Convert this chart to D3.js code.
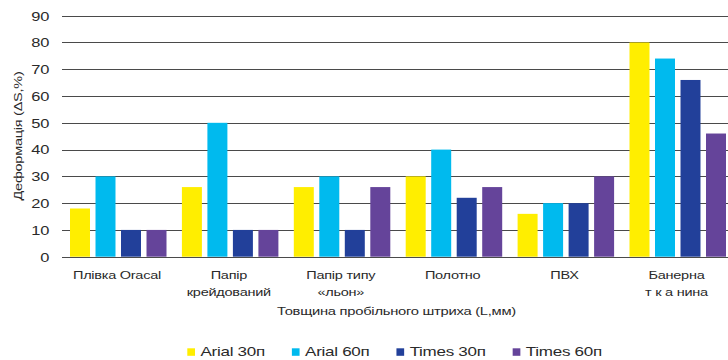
<!DOCTYPE html>
<html>
<head>
<meta charset="utf-8">
<script src="https://cdn.jsdelivr.net/npm/d3@7"></script>
<style>
  html, body { margin: 0; padding: 0; background: #fff; }
  svg { display: block; }
  text { font-family: "Liberation Sans", Arial, sans-serif; fill: #2a2a2a; }
</style>
</head>
<body>
<svg id="chart" width="728" height="360"></svg>
<script>
// Materials tested (two-line labels split with "\n")
const categories = ["Плівка Oracal", "Папір\nкрейдований", "Папір типу\n«льон»", "Полотно", "ПВХ", "Банерна\nт к а нина"];
const seriesNames = ["Arial 30п", "Arial 60п", "Times 30п", "Times 60п"];
const arial30 = [18, 26, 26, 30, 16, 80];
const arial60 = [30, 50, 30, 40, 20, 74];
const times30 = [10, 10, 10, 22, 20, 66];
const times60 = [10, 10, 26, 26, 30, 46];
const yTicks = [0, 10, 20, 30, 40, 50, 60, 70, 80, 90];
const colors = ["#FFEE00", "#00BAEE", "#22409A", "#65449A"];

const seriesValues = [arial30, arial60, times30, times60];
const svg = d3.select("#chart");

const y = d3.scaleLinear().domain([0, 90]).range([256.7, 15.7]);
const x0 = d3.scaleBand().domain(categories).range([62, 733.4]);
const x1 = d3.scaleBand().domain(seriesNames).range([8, 104.5]).paddingInner(0.216).paddingOuter(0);

// wide-set lettering: place a text node inside a positioned group and stretch it horizontally
function wideText(parent, x, y, str, size, sx, anchor, rotate) {
  const g = parent.append("g")
    .attr("transform", `translate(${x},${y})` + (rotate ? ` rotate(${rotate})` : ""));
  return g.append("text")
    .attr("transform", `scale(${sx},1)`)
    .attr("text-anchor", anchor)
    .style("font-size", size + "px")
    .text(str);
}

// horizontal gridlines
svg.append("g").selectAll("line").data(yTicks).join("line")
  .attr("x1", 62).attr("x2", 728)
  .attr("y1", d => Math.round(y(d)) + 0.5).attr("y2", d => Math.round(y(d)) + 0.5)
  .attr("stroke", "#4a4a4a").attr("stroke-width", 1.2);

// y tick labels
const tickG = svg.append("g");
yTicks.forEach(t => wideText(tickG, 49.5, y(t) + 4.9, t, 13.5, 1.22, "end"));

// bars
const groups = svg.append("g").selectAll("g").data(categories).join("g")
  .attr("transform", d => `translate(${x0(d)},0)`);
groups.selectAll("rect")
  .data((c, i) => seriesNames.map((s, j) => ({ s, j, v: seriesValues[j][i] })))
  .join("rect")
  .attr("x", d => x1(d.s))
  .attr("width", x1.bandwidth())
  .attr("y", d => y(d.v))
  .attr("height", d => y(0) - y(d.v))
  .attr("fill", d => colors[d.j]);

// category labels under each group
const catG = svg.append("g");
categories.forEach(c => {
  const cx = x0(c) + x0.bandwidth() / 2 - 1;
  c.split("\n").forEach((line, i) =>
    wideText(catG, cx, 278.7 + i * 16.8, line, 11.6, 1.25, "middle").style("letter-spacing", "-0.2px"));
});

// axis titles
wideText(svg, 396.5, 314.5, "Товщина пробільного штриха (L,мм)", 11.6, 1.27, "middle").style("letter-spacing", "-0.2px");
wideText(svg, 22, 136, "Деформація (ΔS,%)", 11.6, 1.25, "middle", -90).style("letter-spacing", "-0.2px");

// legend: items laid out one after another, each swatch followed by its label
const lg = svg.append("g");
let lx = 187.3;
seriesNames.forEach((name, i) => {
  const item = lg.append("g").attr("transform", `translate(${lx},348.3)`);
  item.append("rect").attr("width", 7.7).attr("height", 7.5).attr("fill", colors[i]);
  const t = wideText(item, 13.2, 7.4, name, 12, 1.42, "start").style("letter-spacing", "-0.2px");
  lx += 13.2 + t.node().getComputedTextLength() * 1.42 + 27;
});
</script>
</body>
</html>
